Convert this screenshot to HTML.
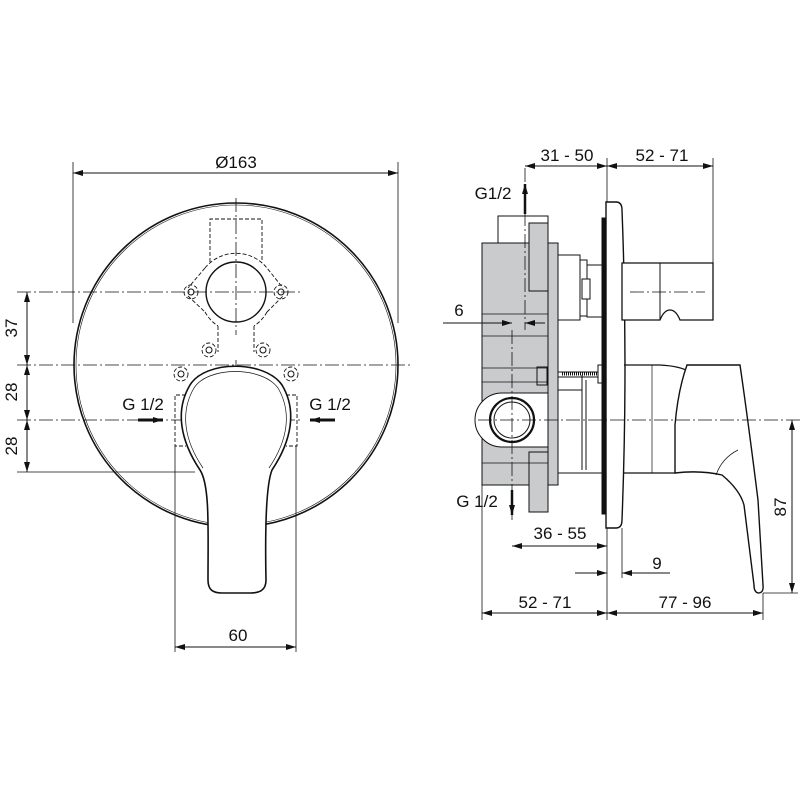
<!DOCTYPE html>
<html><head><meta charset="utf-8"><style>
html,body{margin:0;padding:0;background:#fff;}
svg{display:block}
text{font-family:"Liberation Sans",Arial,sans-serif;font-size:17px;fill:#111}
</style></head><body>
<svg width="800" height="800" viewBox="0 0 800 800" xmlns="http://www.w3.org/2000/svg">
<defs>
<marker id="a" viewBox="0 0 10 6" refX="10" refY="3" markerWidth="10" markerHeight="6" orient="auto-start-reverse" markerUnits="userSpaceOnUse"><path d="M0,0L10,3L0,6z" fill="#111"/></marker>
</defs>
<g stroke="#111" fill="none" stroke-width="1">
<circle cx="236" cy="365" r="162" stroke-width="1.6"/>
<circle cx="236" cy="365" r="160" stroke-width="0.6"/>
<g stroke-dasharray="14,3,2,3" stroke-width="0.8">
<line x1="17" y1="292" x2="300" y2="292"/>
<line x1="17" y1="365" x2="412" y2="365"/>
<line x1="17" y1="420" x2="300" y2="420"/>
<line x1="236" y1="198" x2="236" y2="335"/>
<line x1="236" y1="360" x2="236" y2="535"/>
</g>
<line x1="17" y1="472" x2="195" y2="472" stroke-width="0.8"/>
<g stroke-dasharray="4,2" stroke-width="0.9">
<path d="M210,262 V219 H262 V262"/>
<path d="M205,268 A40,40 0 0 1 267,268 L283,288 M205,268 L188,288 M188,296 L205,312 M267,312 L283,296 M205,312 A40,40 0 0 0 218,326 M267,312 A40,40 0 0 1 254,326 M218,326 V352 M254,326 V352"/>
<circle cx="191" cy="292" r="7"/><circle cx="281" cy="292" r="7"/>
<circle cx="209" cy="350" r="7"/><circle cx="263" cy="350" r="7"/>
<circle cx="181" cy="374" r="7"/><circle cx="291" cy="374" r="7"/>
<path d="M186,395 H175 V446 H186 M286,395 H297 V446 H286"/>
<path d="M208,460 V472 H265 V460"/>
</g>
<circle cx="191" cy="292" r="3"/><circle cx="281" cy="292" r="3"/>
<circle cx="209" cy="350" r="3"/><circle cx="263" cy="350" r="3"/>
<circle cx="181" cy="374" r="3"/><circle cx="291" cy="374" r="3"/>
<circle cx="236" cy="292" r="30" stroke-width="1.4"/>
<path d="M200,470 C180,440 175,410 190,385 C205,360 265,360 282,385 C297,410 292,440 272,470 C266,485 265,530 266,580 C266,590 260,593 250,593 H222 C213,593 208,590 208,580 C208,530 210,485 200,470 Z" fill="#fff" stroke-width="1.6"/>
<path d="M203,468 C184,440 180,412 194,388 C208,366 262,366 278,388 C292,412 288,440 269,468" stroke-width="0.7"/>
<line x1="73" y1="162" x2="73" y2="323" stroke-width="0.8"/>
<line x1="398" y1="162" x2="398" y2="323" stroke-width="0.8"/>
<line x1="73" y1="173" x2="398" y2="173" marker-start="url(#a)" marker-end="url(#a)"/>
<line x1="27" y1="292" x2="27" y2="365" marker-start="url(#a)" marker-end="url(#a)"/>
<line x1="27" y1="365" x2="27" y2="420" marker-start="url(#a)" marker-end="url(#a)"/>
<line x1="27" y1="420" x2="27" y2="472" marker-start="url(#a)" marker-end="url(#a)"/>
<line x1="175" y1="446" x2="175" y2="652" stroke-width="0.8"/>
<line x1="296" y1="446" x2="296" y2="652" stroke-width="0.8"/>
<line x1="175" y1="647" x2="296" y2="647" marker-start="url(#a)" marker-end="url(#a)"/>
<line x1="138" y1="420" x2="163" y2="420" stroke-width="3" marker-end="url(#a)"/>
<line x1="335" y1="420" x2="310" y2="420" stroke-width="3" marker-end="url(#a)"/>

<g fill="#c9cbcc" stroke-width="1">
<rect x="498" y="216" width="50" height="27" fill="#fff"/>
<rect x="482" y="243" width="66" height="242"/>
<rect x="548" y="243" width="10" height="242"/>
<rect x="529" y="223" width="19" height="68"/>
<rect x="529" y="452" width="19" height="60"/>
<rect x="537" y="367" width="10" height="18"/>
</g>
<g stroke-width="0.8">
<line x1="482" y1="314" x2="548" y2="314"/><line x1="482" y1="336" x2="548" y2="336"/>
<line x1="482" y1="368" x2="548" y2="368"/><line x1="482" y1="382" x2="548" y2="382"/>
<line x1="482" y1="463" x2="548" y2="463"/>
</g>
<path d="M548,393 H502 A27,27 0 0 0 502,447 H548 Z" fill="#fff" stroke-width="1"/>
<circle cx="512" cy="420" r="22" stroke-width="2.2" fill="#fff"/>
<circle cx="512" cy="420" r="18" stroke-width="1"/>
<rect x="558" y="255" width="22" height="65" fill="#fff"/>
<rect x="580" y="260" width="7" height="56" fill="#fff"/>
<rect x="587" y="265" width="17" height="52" fill="#fff"/>
<rect x="582" y="279" width="8" height="20" fill="#fff"/>
<rect x="558" y="372" width="46" height="5"/>
<line x1="562" y1="374" x2="600" y2="374" stroke-dasharray="1,1" stroke-width="3"/>
<rect x="598" y="365" width="6" height="18" fill="#fff"/>
<path d="M558,390 H582 M582,375 V470 M586,380 V470 M558,473 H604"/>
<rect x="602" y="218" width="4" height="296" fill="#111"/>
<path d="M606,202 H616 Q622,202 622,210 Q628,365 622,520 Q622,528 616,528 H606 Z" fill="#fff" stroke-width="1.4"/>
<path d="M622,263 H713 V320 H680 Q676,310 670,310 Q664,310 660,320 H622 Z" fill="#fff" stroke-width="1.3"/>
<line x1="660" y1="263" x2="660" y2="320" stroke-width="1"/>
<path d="M624,365 H660 Q680,366 690,372 M624,473 H675" stroke-width="1.3"/>
<line x1="652" y1="365" x2="652" y2="473" stroke-width="0.7"/>
<path d="M687,365 H740 Q748,420 758,500 L763,585 Q764,593 758,593 Q754,592 754,585 L744,505 Q740,490 722,475 Q700,470 675,473 L675,425 Q678,390 687,365 Z" fill="#fff" stroke-width="1.4"/>
<path d="M716,475 Q722,458 738,450" stroke-width="0.7"/>
<g stroke-dasharray="14,3,2,3" stroke-width="0.8">
<line x1="478" y1="420" x2="800" y2="420"/>
<line x1="630" y1="292" x2="705" y2="292"/>
<line x1="525" y1="168" x2="525" y2="330"/>
<line x1="512" y1="330" x2="512" y2="520"/>
</g>
<line x1="607" y1="158" x2="607" y2="202" stroke-width="0.8"/>
<line x1="713" y1="158" x2="713" y2="263" stroke-width="0.8"/>
<line x1="525" y1="166" x2="607" y2="166" marker-start="url(#a)" marker-end="url(#a)"/>
<line x1="607" y1="166" x2="713" y2="166" marker-start="url(#a)" marker-end="url(#a)"/>
<line x1="525" y1="214" x2="525" y2="184" stroke-width="2.5" marker-end="url(#a)"/>
<line x1="512" y1="490" x2="512" y2="515" stroke-width="2.5" marker-end="url(#a)"/>
<line x1="443" y1="323" x2="512" y2="323" marker-end="url(#a)"/>
<line x1="545" y1="323" x2="525" y2="323" marker-end="url(#a)"/>
<line x1="607" y1="528" x2="607" y2="620" stroke-width="0.8"/>
<line x1="622" y1="528" x2="622" y2="578" stroke-width="0.8"/>
<line x1="482" y1="485" x2="482" y2="620" stroke-width="0.8"/>
<line x1="763" y1="593" x2="763" y2="620" stroke-width="0.8"/>
<line x1="512" y1="546" x2="607" y2="546" marker-start="url(#a)" marker-end="url(#a)"/>
<line x1="575" y1="573" x2="607" y2="573" marker-end="url(#a)"/>
<line x1="670" y1="573" x2="622" y2="573" marker-end="url(#a)"/>
<line x1="482" y1="613" x2="607" y2="613" marker-start="url(#a)" marker-end="url(#a)"/>
<line x1="607" y1="613" x2="763" y2="613" marker-start="url(#a)" marker-end="url(#a)"/>
<line x1="763" y1="593" x2="798" y2="593" stroke-width="0.8"/>
<line x1="792" y1="420" x2="792" y2="593" marker-start="url(#a)" marker-end="url(#a)"/>
</g>
<text x="236" y="168" text-anchor="middle">Ø163</text>
<text transform="translate(17,328) rotate(-90)" text-anchor="middle">37</text>
<text transform="translate(17,392) rotate(-90)" text-anchor="middle">28</text>
<text transform="translate(17,446) rotate(-90)" text-anchor="middle">28</text>
<text x="143" y="410" text-anchor="middle">G 1/2</text>
<text x="330" y="410" text-anchor="middle">G 1/2</text>
<text x="238" y="641" text-anchor="middle">60</text>
<text x="567" y="161" text-anchor="middle">31 - 50</text>
<text x="662" y="161" text-anchor="middle">52 - 71</text>
<text x="493" y="199" text-anchor="middle">G1/2</text>
<text x="459" y="316" text-anchor="middle">6</text>
<text x="477" y="507" text-anchor="middle">G 1/2</text>
<text x="560" y="539" text-anchor="middle">36 - 55</text>
<text x="657" y="569" text-anchor="middle">9</text>
<text x="545" y="608" text-anchor="middle">52 - 71</text>
<text x="685" y="608" text-anchor="middle">77 - 96</text>
<text transform="translate(786,507) rotate(-90)" text-anchor="middle">87</text>
</svg>
</body></html>
